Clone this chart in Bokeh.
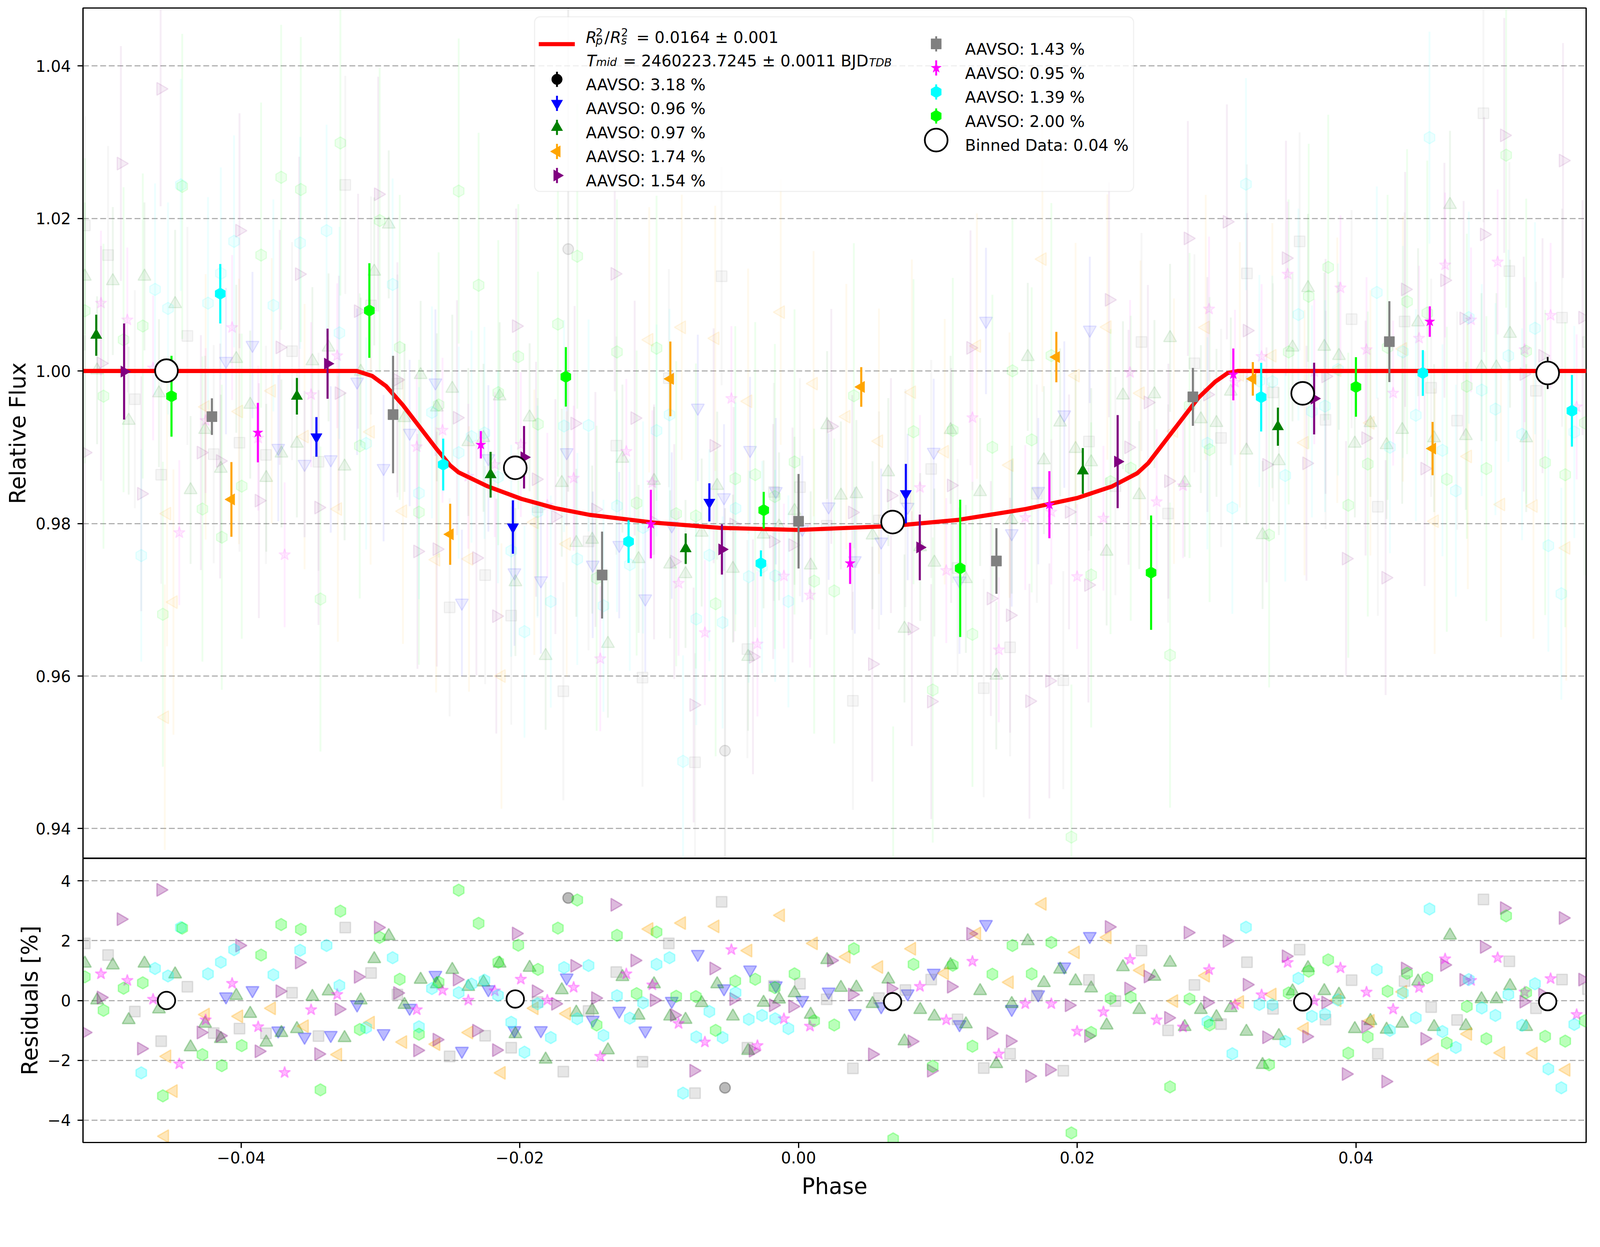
import numpy as np
from bokeh.plotting import figure
from bokeh.models import (Range1d, FixedTicker, BoxAnnotation, Label,
                          NumeralTickFormatter, CustomJSTickFormatter)
from bokeh.layouts import column
from bokeh.embed import file_html
from bokeh.resources import INLINE

# ------------------------------------------------------------------ data
model_phase = [-0.0514, -0.0317, -0.0306, -0.0296, -0.0284, -0.0272, -0.0260, -0.0250, -0.0244,
               -0.0223, -0.0199, -0.0175, -0.0150, -0.0104, -0.0056, 0.0000, 0.0066, 0.0115,
               0.0163, 0.0200, 0.0225, 0.0243, 0.0251, 0.0263, 0.0275, 0.0287, 0.0299, 0.0308,
               0.0315, 0.0566]
model_flux = [1.0, 1.0, 0.99935, 0.99802, 0.99554, 0.99269, 0.98983, 0.98762, 0.98671,
              0.98487, 0.98324, 0.98203, 0.98114, 0.98012, 0.97943, 0.97916, 0.97966, 0.98049,
              0.98190, 0.98335, 0.98487, 0.98659, 0.98793, 0.99079, 0.99364, 0.99650, 0.99859, 0.99974,
              1.0, 1.0]

# black (3.18 %)
black_phase = [-0.01653, -0.00528]
black_res = [3.43, -2.92]
black_bin_phase = []
black_bin_flux = []
black_bin_err = []
black_raw_err = 0.0318

# blue (0.96 %)
blue_phase = [-0.04109, -0.03919, -0.03734, -0.03545, -0.03357, -0.03168, -0.02978, -0.02791, -0.02606,
              -0.02416, -0.02226, -0.02039, -0.01849, -0.01664, -0.01477, -0.01287, -0.01100, -0.00910,
              -0.00723, -0.00535, -0.00348, -0.00163, 0.00027, 0.00216, 0.00404, 0.00593, 0.00783,
              0.00970, 0.01155, 0.01345, 0.01530, 0.01720, 0.01907, 0.02090]
blue_res = [0.13, 0.34, -1.01, -1.22, -1.16, -0.14, -1.10, -0.25, 0.85, -1.69, 0.37, -1.00, -1.00, 0.76,
            -0.65, -0.35, -1.01, -0.02, 1.55, 0.40, 1.03, 0.50, 0.01, 0.29, -0.43, -0.20, 0.23, 0.92,
            -0.80, 2.55, -0.29, 0.20, 1.13, 2.15]
blue_bin_phase = [-0.0346, -0.0205, -0.0064, 0.0077]
blue_bin_flux = [0.99136, 0.97954, 0.98278, 0.98392]
blue_bin_err = [0.0026, 0.0035, 0.0025, 0.0039]
blue_raw_err = 0.0096

# green (0.97 %)
green_phase = [-0.05122, -0.05034, -0.04921, -0.04807, -0.04694, -0.04590, -0.04474, -0.04363, -0.04259,
               -0.04146, -0.04035, -0.03935, -0.03820, -0.03711, -0.03600, -0.03489, -0.03373, -0.03258,
               -0.03142, -0.03045, -0.02941, -0.02828, -0.02712, -0.02596, -0.02485, -0.02370, -0.02261,
               -0.02145, -0.02032, -0.01930, -0.01815, -0.01699, -0.01595, -0.01481, -0.01368, -0.01264,
               -0.01148, -0.01037, -0.00922, -0.00811, -0.00695, -0.00584, -0.00471, -0.00362, -0.00251,
               -0.00140, -0.00029, 0.00087, 0.00205, 0.00304, 0.00415, 0.00531, 0.00644, 0.00760,
               0.00873, 0.00975, 0.01091, 0.01201, 0.01303, 0.01419, 0.01530, 0.01645, 0.01761,
               0.01877, 0.01988, 0.02100, 0.02211, 0.02328, 0.02445, 0.02554, 0.02666, 0.02771,
               0.02887, 0.02999, 0.03102, 0.03214, 0.03330, 0.03447, 0.03545, 0.03656, 0.03773,
               0.03878, 0.03992, 0.04104, 0.04220, 0.04332, 0.04446, 0.04561, 0.04675, 0.04789,
               0.04901, 0.05008, 0.05106, 0.05222]
green_res = [1.24, 0.01, 1.18, -0.65, 1.24, -0.29, 0.88, -1.56, -0.77, -1.28, 0.16, -0.44, -1.40, -1.08,
             -0.95, 0.13, 0.31, -1.25, 0.01, 1.39, 2.16, -0.14, 0.70, 0.55, 1.03, 0.46, 0.61, 1.24,
             -1.12, 1.10, -1.97, 0.35, -0.40, -0.32, -1.66, 0.79, -0.50, 0.55, -0.53, -0.64, -0.08,
             0.55, -0.53, -1.68, -0.07, 0.04, 0.25, -0.47, 1.36, 0.43, 0.44, -0.11, 0.71, -1.36,
             -0.31, -0.53, 1.19, -0.79, 0.32, -2.12, -0.11, 1.99, 0.59, 1.04, 0.65, 0.41, -0.83,
             1.12, -0.31, 0.80, 1.27, -0.88, -0.31, -0.55, -0.25, -1.04, -2.15, -1.18, 0.31, 1.09,
             0.32, 0.20, -0.95, -0.68, -0.97, -0.77, 0.64, -0.88, 2.18, -0.85, 0.05, 0.05, 0.49, -0.88]
green_bin_phase = [-0.0504, -0.0360, -0.0221, -0.0081, 0.0204, 0.0344]
green_bin_flux = [1.00469, 0.99669, 0.98640, 0.97670, 0.98690, 0.99270]
green_bin_err = [0.0027, 0.0024, 0.0030, 0.0020, 0.0030, 0.0025]
green_raw_err = 0.0097

# orange (1.74 %)
orange_phase = [-0.04548, -0.04532, -0.04486, -0.04255, -0.04016, -0.03781, -0.03545, -0.03306, -0.03071,
                -0.02839, -0.02601, -0.02365, -0.02132, -0.01896, -0.01664, -0.01072, -0.00838, -0.00598,
                -0.00362, -0.00128, 0.00108, 0.00343, 0.00577, 0.00813, 0.01049, 0.01280, 0.01514,
                0.01750, 0.01988, 0.02216, 0.02454, 0.02694, 0.02922, 0.03167, 0.03400, 0.03631,
                0.03866, 0.04104, 0.04337, 0.04565, 0.04803, 0.05041, 0.05274, 0.05509]
orange_res = [-4.54, -1.87, -3.03, -0.47, -0.53, -0.26, -0.86, -1.81, -0.74, -1.39, -1.46, -1.07, -2.42,
              -0.26, -0.44, 2.39, 2.59, 2.48, 1.67, 2.85, 1.91, 1.46, 1.12, 1.73, 0.91, 2.24, 0.61,
              3.23, 1.61, 2.11, 1.01, -0.02, 0.83, -0.05, 0.20, -0.94, 0.01, -0.68, 0.29, -1.97,
              -1.12, -1.75, -1.77, -2.32]
orange_bin_phase = [-0.0407, -0.0250, -0.0092, 0.0045, 0.0185, 0.0326, 0.0455]
orange_bin_flux = [0.98316, 0.97859, 0.99897, 0.99791, 1.00183, 0.99897, 0.98983]
orange_bin_err = [0.0049, 0.0040, 0.0049, 0.0026, 0.0033, 0.0022, 0.0035]
orange_raw_err = 0.0174

# purple (1.54 %)
purple_phase = [-0.05122, -0.05006, -0.04863, -0.04717, -0.04578, -0.04289, -0.04151, -0.04012, -0.03873,
                -0.03723, -0.03584, -0.03445, -0.03299, -0.03161, -0.03017, -0.02879, -0.02735, -0.02596,
                -0.02451, -0.02312, -0.02169, -0.02027, -0.01884, -0.01745, -0.01607, -0.01458, -0.01319,
                -0.01176, -0.01037, -0.00892, -0.00753, -0.00609, -0.00466, -0.00327, -0.00182, -0.00043,
                0.00235, 0.00385, 0.00529, 0.00663, 0.00813, 0.00952, 0.01095, 0.01234, 0.01380,
                0.01518, 0.01657, 0.01800, 0.01941, 0.02080, 0.02228, 0.02368, 0.02507, 0.02654,
                0.02794, 0.02934, 0.03074, 0.03218, 0.03358, 0.03498, 0.03645, 0.03782, 0.03929,
                0.04069, 0.04213, 0.04353, 0.04493, 0.04635, 0.04773, 0.04920, 0.05064, 0.05204,
                0.05339, 0.05486, 0.05626]
purple_res = [-1.07, 0.10, 2.72, -1.61, 3.70, -1.07, -1.18, 1.84, -1.70, 0.31, 1.27, -1.79, -0.29, 0.79,
              2.44, 0.25, -1.67, -1.31, 0.70, -1.01, -1.66, 2.24, 0.31, -0.11, 1.16, 0.08, 3.20, 1.34,
              0.01, -0.49, -2.35, 1.07, 0.05, -1.68, -0.16, -0.20, 1.34, 0.20, -1.80, 0.40, -1.37,
              -2.35, 0.46, 2.23, -1.10, -1.36, -2.53, -2.32, -0.16, -1.19, 2.46, 0.40, 0.80, -0.58,
              2.27, -0.07, 1.99, 0.53, -1.23, 1.48, -1.21, -0.07, -2.46, -0.88, -2.71, 1.07, -1.28,
              1.19, 0.69, 1.79, 3.09, -0.04, 0.20, 2.76, 0.70]
purple_bin_phase = [-0.0484, -0.0338, -0.0197, -0.0055, 0.0087, 0.0229, 0.0370]
purple_bin_flux = [0.99993, 1.00096, 0.98869, 0.97661, 0.97687, 0.98812, 0.99639]
purple_bin_err = [0.0063, 0.0046, 0.0041, 0.0033, 0.0043, 0.0061, 0.0047]
purple_raw_err = 0.0154

# gray (1.43 %)
gray_phase = [-0.05122, -0.04955, -0.04763, -0.04574, -0.04386, -0.04197, -0.04012, -0.03822, -0.03635,
              -0.03445, -0.03253, -0.03068, -0.02879, -0.02504, -0.02249, -0.02062, -0.01873, -0.01688,
              -0.01507, -0.01308, -0.01120, -0.00931, -0.00743, -0.00552, -0.00367, -0.00177, 0.00010,
              0.00202, 0.00390, 0.00577, 0.00767, 0.00952, 0.01141, 0.01329, 0.01518, 0.01710,
              0.01900, 0.02084, 0.02274, 0.02461, 0.02652, 0.02841, 0.03032, 0.03218, 0.03405,
              0.03596, 0.03782, 0.03969, 0.04157, 0.04349, 0.04540, 0.04726, 0.04915, 0.05101,
              0.05292, 0.05479, 0.05665]
gray_res = [1.91, 1.52, -0.37, -1.36, 0.46, -1.09, -0.94, -1.10, 0.26, -1.19, 2.44, 0.92, 0.20, -1.87,
            -1.18, -1.58, -0.05, -2.38, -0.35, 0.95, -2.05, 1.91, -3.10, 3.30, -1.58, 0.49, 0.56, 0.04,
            -2.27, 0.08, 0.35, 0.70, -0.63, -2.26, -1.78, 0.17, -2.35, 0.69, -0.02, 1.67, -1.00,
            0.52, -0.79, 1.28, -0.28, 1.70, -0.64, 0.68, -1.78, 0.65, -0.22, -0.65, 3.38, 1.31,
            -0.26, 0.70, 0.38]
gray_bin_phase = [-0.0421, -0.0291, -0.0141, 0.0000, 0.0142, 0.0283, 0.0424]
gray_bin_flux = [0.99402, 0.99429, 0.97325, 0.98030, 0.97509, 0.99661, 1.00385]
gray_bin_err = [0.0024, 0.0077, 0.0057, 0.0062, 0.0043, 0.0038, 0.0053]
gray_raw_err = 0.0143

# magenta (0.95 %)
magenta_phase = [-0.05006, -0.04817, -0.04632, -0.04444, -0.04255, -0.04065, -0.03878, -0.03688, -0.03498,
                 -0.03311, -0.02740, -0.02555, -0.02370, -0.02180, -0.01993, -0.01803, -0.01614, -0.01423,
                 -0.01236, -0.01049, -0.00861, -0.00672, -0.00482, -0.00295, -0.00105, 0.00082, 0.00871,
                 0.01060, 0.01248, 0.01437, 0.01627, 0.01814, 0.01999, 0.02188, 0.02379, 0.02570,
                 0.02759, 0.02946, 0.03132, 0.03323, 0.03510, 0.03701, 0.03889, 0.04076, 0.04267,
                 0.04453, 0.04640, 0.04826, 0.05017, 0.05211, 0.05397, 0.05584]
magenta_res = [0.89, 0.67, 0.04, -2.12, -0.65, 0.57, -0.88, -2.41, -0.31, 0.20, -0.31, 0.34, 0.01, 0.32,
               0.71, 0.01, 0.44, -1.87, 0.89, 0.52, -0.77, -1.39, 1.70, -1.51, -0.61, -0.86, 0.47,
               -0.65, 1.31, -1.79, -0.11, -0.11, -1.03, -0.38, 1.37, -0.65, -0.89, 1.03, -0.14, 0.19,
               1.27, -0.01, 1.09, 0.28, -0.29, 0.43, 1.39, 0.67, 1.43, 0.28, 0.73, -0.47]
magenta_bin_phase = [-0.0388, -0.0228, -0.0106, 0.0037, 0.0180, 0.0312, 0.0453]
magenta_bin_flux = [0.99192, 0.99033, 0.97993, 0.97478, 0.98247, 0.99955, 1.00648]
magenta_bin_err = [0.0039, 0.0018, 0.0045, 0.0027, 0.0044, 0.0034, 0.0020]
magenta_raw_err = 0.0095

# cyan (1.39 %)
cyan_phase = [-0.04717, -0.04618, -0.04525, -0.04433, -0.04238, -0.04146, -0.04051, -0.03769, -0.03577,
              -0.03387, -0.03295, -0.03103, -0.02913, -0.02724, -0.02631, -0.02439, -0.02347, -0.02254,
              -0.02157, -0.02062, -0.01967, -0.01873, -0.01778, -0.01683, -0.01588, -0.01507, -0.01400,
              -0.01303, -0.01211, -0.01116, -0.01019, -0.00926, -0.00829, -0.00734, -0.00640, -0.00545,
              -0.00452, -0.00357, -0.00262, -0.00168, -0.00073, 0.02934, 0.03113, 0.03211, 0.03307,
              0.03400, 0.03493, 0.03587, 0.03684, 0.03778, 0.03871, 0.04150, 0.04244, 0.04337,
              0.04430, 0.04528, 0.04621, 0.04717, 0.04810, 0.04903, 0.05001, 0.05094, 0.05192,
              0.05285, 0.05381, 0.05474, 0.05567]
cyan_res = [-2.42, 1.07, 0.82, 2.44, 0.89, 1.28, 1.70, 0.86, 1.68, 1.84, 0.50, -0.91, 1.43, -0.88, 0.40,
            0.26, 0.55, 0.68, 0.17, -0.73, -1.73, -0.11, -1.24, 1.10, -0.61, 1.17, -1.17, 0.16, -0.59,
            -0.08, 1.21, 1.43, -3.10, -1.22, -0.37, -1.24, 0.26, -0.63, -0.50, -0.61, -0.94, -0.71,
            -1.78, 2.45, -0.13, -0.14, -1.37, 0.74, -0.53, -0.46, 0.02, 1.03, -1.00, 0.25, -0.58,
            3.06, -1.04, -1.57, 0.70, -0.25, -0.50, 0.20, -0.83, 0.56, -2.29, -2.92, -0.80]
cyan_bin_phase = [-0.0415, -0.0255, -0.0122, -0.0027, 0.0332, 0.0448, 0.0555]
cyan_bin_flux = [1.01014, 0.98773, 0.97764, 0.97478, 0.99657, 0.99974, 0.99478]
cyan_bin_err = [0.0039, 0.0034, 0.0028, 0.0017, 0.0045, 0.0030, 0.0047]
cyan_raw_err = 0.0139

# lime (2.00 %)
lime_phase = [-0.05122, -0.04988, -0.04844, -0.04706, -0.04562, -0.04423, -0.04278, -0.04139, -0.03996,
              -0.03857, -0.03713, -0.03572, -0.03431, -0.03288, -0.03149, -0.03006, -0.02862, -0.02724,
              -0.02583, -0.02439, -0.02296, -0.02155, -0.02011, -0.01870, -0.01727, -0.01588, -0.01449,
              -0.01303, -0.01162, -0.01019, -0.00878, -0.00737, -0.00595, -0.00454, -0.00311, -0.00170,
              -0.00029, 0.00112, 0.00256, 0.00397, 0.00679, 0.00825, 0.00963, 0.01107, 0.01248,
              0.01391, 0.01535, 0.01673, 0.01814, 0.01958, 0.02100, 0.02239, 0.02384, 0.02666,
              0.02806, 0.02950, 0.03377, 0.03517, 0.03661, 0.03801, 0.03945, 0.04085, 0.04227,
              0.04367, 0.04512, 0.04652, 0.04796, 0.04936, 0.05078, 0.05222, 0.05358, 0.05502, 0.05642]
lime_res = [0.79, -0.33, 0.41, 0.59, -3.19, 2.42, -1.81, -2.18, -1.51, 1.52, 2.54, 2.38, -2.99, 2.99,
            -0.97, 2.11, 0.71, -1.13, 0.61, 3.69, 2.58, 1.28, 1.85, 1.04, 2.42, 3.36, -0.82, 2.18,
            0.23, 2.29, 0.14, 0.13, -1.00, 0.65, 0.71, 0.43, 0.89, -0.68, -0.82, 1.73, -4.63, 1.21,
            -2.20, 1.18, -1.53, 0.88, 1.84, 0.89, 1.94, -4.43, -1.07, 0.07, 0.11, -2.89, 0.05, -0.82,
            -2.15, 0.25, 0.98, 1.36, -1.76, -1.22, 0.31, 0.91, 0.76, -1.42, -0.20, -1.28, 2.83,
            0.26, -1.20, -1.36, -0.68]
lime_bin_phase = [-0.0450, -0.0308, -0.0167, -0.0025, 0.0116, 0.0253, 0.0400]
lime_bin_flux = [0.99669, 1.00793, 0.99924, 0.98175, 0.97413, 0.97356, 0.99791]
lime_bin_err = [0.0053, 0.0062, 0.0039, 0.0024, 0.0090, 0.0075, 0.0039]
lime_raw_err = 0.0200

# binned data (0.04 %)
binned_phase = [-0.04536, -0.02033, 0.00675, 0.03618, 0.05376]
binned_flux = [1.00004, 0.98731, 0.98019, 0.99707, 0.99974]
binned_err = [0.0012, 0.0013, 0.0012, 0.0014, 0.0021]
binned_res = [0.00, 0.05, -0.04, -0.05, -0.04]

legend_labels = ["AAVSO: 3.18 %", "AAVSO: 0.96 %", "AAVSO: 0.97 %", "AAVSO: 1.74 %", "AAVSO: 1.54 %",
                 "AAVSO: 1.43 %", "AAVSO: 0.95 %", "AAVSO: 1.39 %", "AAVSO: 2.00 %"]
binned_label = "Binned Data: 0.04 %"

x_ticks = [-0.04, -0.02, 0.0, 0.02, 0.04]
flux_ticks = [0.94, 0.96, 0.98, 1.00, 1.02, 1.04]
res_ticks = [-4, -2, 0, 2, 4]

# ------------------------------------------------------------------ layout (target px -> css px)
S = 4096 / 4215.0           # the page is photographed at this scale


def c(v):
    return v * S


def fpx(v):
    return f"{c(v):.1f}px"


XMIN, XMAX = -0.05135, 0.05652
YMIN, YMAX = 0.93608, 1.0476
RMIN, RMAX = -4.75, 4.75
FONT = "DejaVu Sans"

W = round(c(4215)) - 16
MBL = round(c(226)) - 8
MBR = W - (round(c(4186)) - 8)
MBT = round(c(29)) - 8
H_MAIN = round(c(2269)) - 8
H_RES_FRAME = round(c(3017)) - round(c(2269))
H_RES = (round(c(3192)) - 16) - H_MAIN
MBB = H_RES - H_RES_FRAME

# main frame in target px (for legend placement)
FX0 = (8 + MBL) / S
FW = (W - MBL - MBR) / S
FY0 = (8 + MBT) / S
FH = (H_MAIN - MBT) / S

xr = Range1d(XMIN, XMAX)

p = figure(width=W, height=H_MAIN, x_range=xr, y_range=Range1d(YMIN, YMAX),
           output_backend="svg", toolbar_location=None,
           min_border_left=MBL, min_border_right=MBR, min_border_top=MBT, min_border_bottom=0)
r = figure(width=W, height=H_RES, x_range=xr, y_range=Range1d(RMIN, RMAX),
           output_backend="svg", toolbar_location=None,
           min_border_left=MBL, min_border_right=MBR, min_border_top=0, min_border_bottom=MBB)

styles = [
    # color, marker, angle, bold size, res size
    ("black", "circle", 0.0, 28, 28),
    ("blue", "inverted_triangle", 0.0, 30, 34),
    ("green", "triangle", 0.0, 30, 34),
    ("orange", "triangle", np.pi / 2, 30, 34),
    ("purple", "triangle", -np.pi / 2, 30, 34),
    ("gray", "square", 0.0, 27, 28),
    ("magenta", "star", 0.0, 28, 32),
    ("cyan", "hex", np.pi / 2, 31, 32),
    ("lime", "hex", np.pi / 2, 31, 32),
]
datasets = [
    (black_phase, black_res, black_bin_phase, black_bin_flux, black_bin_err, black_raw_err),
    (blue_phase, blue_res, blue_bin_phase, blue_bin_flux, blue_bin_err, blue_raw_err),
    (green_phase, green_res, green_bin_phase, green_bin_flux, green_bin_err, green_raw_err),
    (orange_phase, orange_res, orange_bin_phase, orange_bin_flux, orange_bin_err, orange_raw_err),
    (purple_phase, purple_res, purple_bin_phase, purple_bin_flux, purple_bin_err, purple_raw_err),
    (gray_phase, gray_res, gray_bin_phase, gray_bin_flux, gray_bin_err, gray_raw_err),
    (magenta_phase, magenta_res, magenta_bin_phase, magenta_bin_flux, magenta_bin_err, magenta_raw_err),
    (cyan_phase, cyan_res, cyan_bin_phase, cyan_bin_flux, cyan_bin_err, cyan_raw_err),
    (lime_phase, lime_res, lime_bin_phase, lime_bin_flux, lime_bin_err, lime_raw_err),
]

# faint raw points in the main panel: flux = transit model + residual
for (col, mk, ang, bs, rs), (ph, res, bph, bfl, ber, rerr) in zip(styles, datasets):
    flux = (np.interp(ph, model_phase, model_flux) + np.array(res) / 100.0).tolist()
    p.segment(x0=ph, x1=ph, y0=[f - rerr for f in flux], y1=[f + rerr for f in flux],
              line_color=col, line_alpha=0.07, line_width=c(5))
    p.scatter(ph, flux, marker=mk, angle=ang, size=c(rs), fill_color=col, fill_alpha=0.07,
              line_color=col, line_alpha=0.1, line_width=c(3))

p.line(model_phase, model_flux, line_color="red", line_width=c(11), line_join="round")

for (col, mk, ang, bs, rs), (ph, res, bph, bfl, ber, rerr) in zip(styles, datasets):
    if not bph:
        continue
    p.segment(x0=bph, x1=bph, y0=[f - e for f, e in zip(bfl, ber)], y1=[f + e for f, e in zip(bfl, ber)],
              line_color=col, line_width=c(5.5))
    p.scatter(bph, bfl, marker=mk, angle=ang, size=c(bs), fill_color=col, line_color=col, line_width=1)

p.segment(x0=binned_phase, x1=binned_phase,
          y0=[f - e for f, e in zip(binned_flux, binned_err)], y1=[f + e for f, e in zip(binned_flux, binned_err)],
          line_color="black", line_width=c(4.5))
p.scatter(binned_phase, binned_flux, marker="circle", size=c(60), fill_color="white",
          line_color="black", line_width=c(4.5))

# residual panel
for (col, mk, ang, bs, rs), (ph, res, bph, bfl, ber, rerr) in zip(styles, datasets):
    a = 0.2 if col == "gray" else 0.27
    r.scatter(ph, res, marker=mk, angle=ang, size=c(rs), fill_color=col, fill_alpha=a,
              line_color=col, line_alpha=a, line_width=c(3.5))
r.segment(x0=binned_phase, x1=binned_phase,
          y0=[v - 100 * e for v, e in zip(binned_res, binned_err)],
          y1=[v + 100 * e for v, e in zip(binned_res, binned_err)], line_color="black", line_width=c(4.5))
r.scatter(binned_phase, binned_res, marker="circle", size=c(46), fill_color="white",
          line_color="black", line_width=c(4.5))

# ------------------------------------------------------------------ axes styling
for f in (p, r):
    f.background_fill_color = "white"
    f.border_fill_color = "white"
    f.outline_line_color = "black"
    f.outline_line_width = c(3.3)
    f.outline_line_alpha = 1.0
    f.xgrid.visible = False
    f.ygrid.grid_line_color = "#b0b0b0"
    f.ygrid.grid_line_width = c(3)
    f.ygrid.grid_line_dash = "15 7"
    for ax in (f.xaxis, f.yaxis):
        ax.axis_line_color = "black"
        ax.axis_line_width = c(3.3)
        ax.major_tick_line_color = "black"
        ax.major_tick_line_width = c(3.3)
        ax.major_tick_out = round(c(14))
        ax.major_tick_in = 0
        ax.minor_tick_line_color = None
        ax.major_label_text_font = FONT
        ax.major_label_text_font_size = fpx(41.7)
        ax.major_label_text_color = "black"
        ax.axis_label_text_font = FONT
        ax.axis_label_text_font_size = fpx(58)
        ax.axis_label_text_font_style = "normal"
        ax.axis_label_text_color = "black"
    f.yaxis.major_label_standoff = round(c(17))
    f.yaxis.axis_label_standoff = round(c(10))

p.xaxis.visible = False
p.yaxis.ticker = FixedTicker(ticks=flux_ticks)
p.yaxis.formatter = NumeralTickFormatter(format="0.00")
p.yaxis.axis_label = "Relative Flux"

r.xaxis.ticker = FixedTicker(ticks=x_ticks)
r.xaxis.formatter = CustomJSTickFormatter(
    code="return tick < 0 ? '\u2212' + Math.abs(tick).toFixed(2) : tick.toFixed(2);")
r.xaxis.major_label_standoff = round(c(9))
r.xaxis.axis_label_standoff = round(c(24))
r.xaxis.axis_label = "Phase"
r.yaxis.ticker = FixedTicker(ticks=res_ticks)
r.yaxis.formatter = CustomJSTickFormatter(
    code="return tick < 0 ? '\u2212' + Math.abs(tick).toFixed(0) : tick.toFixed(0);")
r.yaxis.axis_label = "Residuals [%]"


# ------------------------------------------------------------------ legend (drawn as a matplotlib-like box)
def px_x(px):
    return XMIN + (px - FX0) / FW * (XMAX - XMIN)


def px_y(py):
    return YMAX - (py - FY0) / FH * (YMAX - YMIN)


p.add_layout(BoxAnnotation(left=px_x(1416), right=px_x(2994), top=px_y(52), bottom=px_y(512),
                           fill_color="white", fill_alpha=0.8, line_color="#cccccc", line_width=c(3),
                           border_radius=round(c(14))))


def txt(px, py, s, size, italic=False):
    p.add_layout(Label(x=px_x(px), y=px_y(py), text=s, text_font=FONT, text_font_size=fpx(size),
                       text_font_style="italic" if italic else "normal", text_color="black",
                       text_baseline="alphabetic", text_align="left"))


# model entry
kr = p.line([px_x(1427), px_x(1522)], [px_y(124), px_y(124)], line_color="red", line_width=c(11))
kr.level = "overlay"
txt(1551, 107, "R", 41.7, True)
txt(1577, 115, "p", 29, True)
txt(1577, 93, "2", 29)
txt(1600, 107, "/", 41.7)
txt(1615, 107, "R", 41.7, True)
txt(1644, 115, "s", 29, True)
txt(1644, 93, "2", 29)
txt(1684, 107, "= 0.0164 \u00b1 0.001", 41.7)
txt(1553, 168, "T", 41.7, True)
txt(1578, 172, "mid", 29, True)
txt(1649, 168, "= 2460223.7245 \u00b1 0.0011 BJD", 41.7)
txt(2297, 173, "TDB", 29, True)

# dataset entries: column 1 (5 rows) and column 2 (4 rows + binned data)
key_x = [1475] * 5 + [2474] * 4
key_y = [216.7, 280.0, 343.3, 406.7, 470.0, 123.3, 186.7, 250.0, 313.3]
for i, (col, mk, ang, bs, rs) in enumerate(styles):
    kx, ky = px_x(key_x[i]), px_y(key_y[i])
    sr = p.segment(x0=[kx], x1=[kx], y0=[px_y(key_y[i] + 20)], y1=[px_y(key_y[i] - 20)],
                   line_color=col, line_width=c(5))
    mr = p.scatter([kx], [ky], marker=mk, angle=ang, size=c(bs), fill_color=col, line_color=col, line_width=1)
    sr.level = "overlay"
    mr.level = "overlay"
    txt(key_x[i] + 76, key_y[i] + 14, legend_labels[i], 41.7)

br = p.scatter([px_x(2474)], [px_y(376.7)], marker="circle", size=c(60), fill_color="white",
               line_color="black", line_width=c(4.5))
br.level = "overlay"
txt(2550, 376.7 + 14, binned_label, 41.7)

layout = column(p, r)
open("out.html", "w").write(file_html(layout, INLINE))
